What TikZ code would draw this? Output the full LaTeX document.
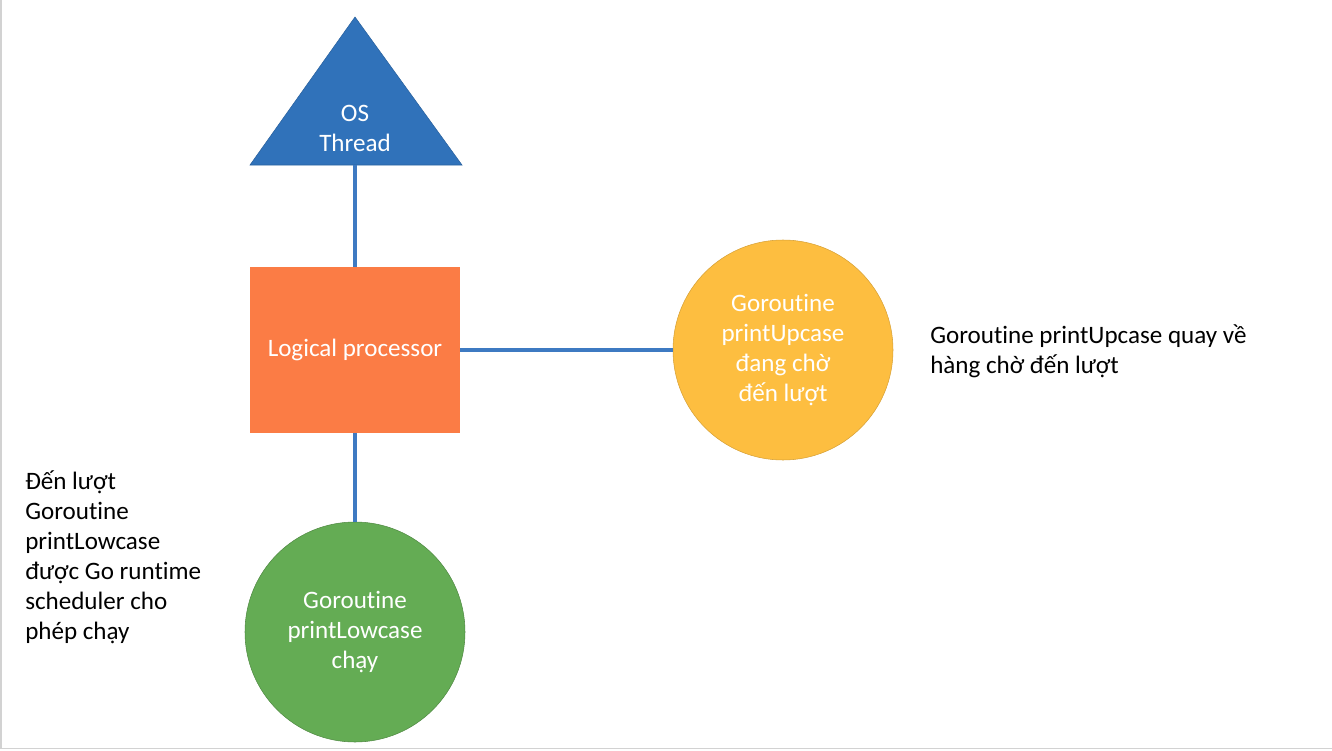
\documentclass[tikz,border=0pt]{standalone}
\usepackage{fontspec}
\setmainfont{Carlito}[Ligatures={NoCommon}]
\usepackage{tikz}
\definecolor{threadblue}{HTML}{3072BA}
\definecolor{linkblue}{HTML}{3E7AC2}
\definecolor{procorange}{HTML}{FB7C45}
\definecolor{waityellow}{HTML}{FDBE40}
\definecolor{rungreen}{HTML}{64AC54}
\begin{document}
\begin{tikzpicture}[x=0.75pt,y=-0.75pt]
\tikzstyle{every node}+=[font=\fontsize{18.8}{22.5}\selectfont, align=center, inner sep=0pt]
\tikzstyle{shapetext}=[text=white]
\tikzstyle{link}=[draw=linkblue, line width=2.3pt]
\tikzstyle{goro}=[circle, minimum size=165pt, text=white]
% page frame
\useasboundingbox (0,0) rectangle (1332,750);
\draw [gray!35, line width=1.2pt] (0.8,0) -- (0.8,748.5) -- (1332,748.5);
% OS thread
\fill [threadblue, draw=threadblue!85!black] (355,17) -- (462,165) -- (250,165) -- cycle;
\coordinate (threadbase) at (355,165);
\draw (355,128) node [shapetext] (thread) {OS\\Thread};
% logical processor
\draw (355,350) node [fill=procorange, minimum width=157.5pt, minimum height=124.5pt, shapetext] (proc) {Logical processor};
% goroutines
\draw (783,350) node [goro, fill=waityellow, draw=waityellow!85!black] (upcase) {Goroutine\\printUpcase\\đang chờ\\đến lượt};
\draw (355,632) node [goro, fill=rungreen, draw=rungreen!80!black] (lowcase) {Goroutine\\printLowcase\\chạy};
% connectors
\draw [link] (threadbase) -- (proc.north);
\draw [link] (proc.east) -- (upcase.west);
\draw [link] (proc.south) -- (lowcase.north);
% notes
\draw (930,351) node [anchor=west, align=left] (upnote) {Goroutine printUpcase quay về\\hàng chờ đến lượt};
\draw (25,557) node [anchor=west, align=left] (lownote) {Đến lượt\\Goroutine\\printLowcase\\được Go runtime\\scheduler cho\\phép chạy};
\end{tikzpicture}
\end{document}
